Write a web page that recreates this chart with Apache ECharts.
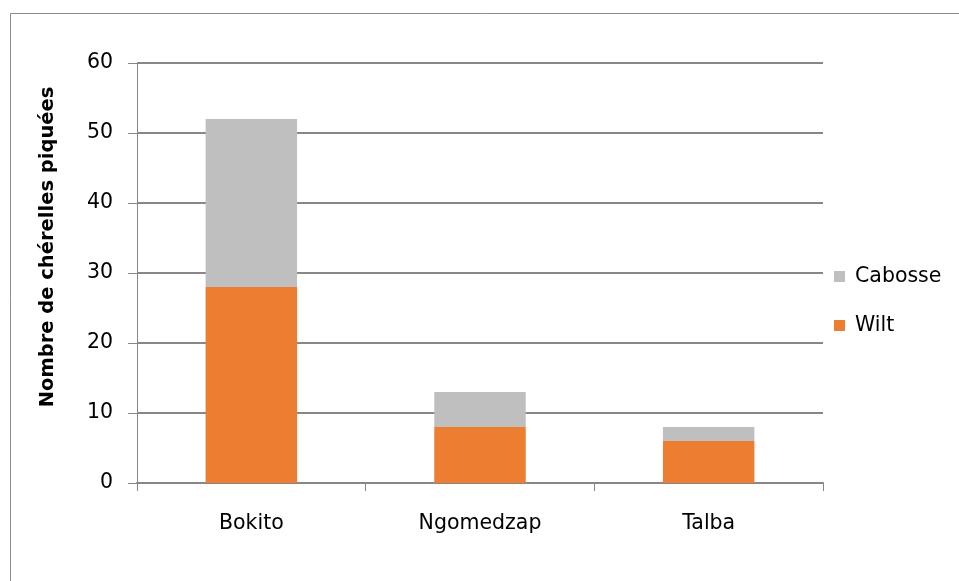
<!DOCTYPE html>
<html>
<head>
<meta charset="utf-8">
<script src="https://cdn.jsdelivr.net/npm/echarts@6/dist/echarts.min.js"></script>
<style>
  html, body { margin: 0; padding: 0; background: #fff; }
  #chart { width: 959px; height: 581px; }
</style>
</head>
<body>
<div id="chart"></div>
<script>
// données
const sites = ["Bokito", "Ngomedzap", "Talba"];
const wilt = [28, 8, 6];
const cabosse = [24, 5, 2];
const yTicks = [0, 10, 20, 30, 40, 50, 60];

const chart = echarts.init(document.getElementById("chart"));
const font = "'DejaVu Sans', sans-serif";

chart.setOption({
  animation: false,
  textStyle: { fontFamily: font },
  // cadre gris autour du graphique
  graphic: [{
    type: "rect",
    shape: { x: 10.5, y: 13.5, width: 960, height: 580 },
    style: { fill: "none", stroke: "#8c8c8c", lineWidth: 1 }
  }],
  grid: { left: 137, right: 136, top: 63, bottom: 98 },
  legend: {
    orient: "vertical",
    left: 829,
    top: 261,
    itemWidth: 11,
    itemHeight: 11,
    itemGap: 28,
    icon: "rect",
    data: ["Cabosse", "Wilt"],
    textStyle: { fontSize: 20.5, color: "#000", fontFamily: font, padding: [0, 0, 0, 5] }
  },
  xAxis: {
    type: "category",
    data: sites,
    axisLine: { lineStyle: { color: "#878787", width: 2 } },
    axisTick: { show: true, length: 8, lineStyle: { color: "#878787", width: 1 } },
    axisLabel: { fontSize: 20.5, color: "#000", margin: 30 }
  },
  yAxis: {
    type: "value",
    min: yTicks[0],
    max: yTicks[yTicks.length - 1],
    interval: 10,
    name: "Nombre de chérelles piquées",
    nameLocation: "middle",
    nameGap: 79,
    // titre un peu au-dessus du centre
    nameTextStyle: { fontSize: 19.5, fontWeight: "bold", color: "#000", padding: [0, 0, 0, 52] },
    axisLine: { show: true, lineStyle: { color: "#878787", width: 1 } },
    axisTick: { show: true, length: 9, lineStyle: { color: "#878787" } },
    axisLabel: { fontSize: 20.5, color: "#000", margin: 24 },
    splitLine: { lineStyle: { color: "#878787", width: 2 } }
  },
  series: [
    {
      name: "Wilt",
      type: "bar",
      stack: "total",
      barWidth: "40%",
      itemStyle: { color: "#ed7d31" },
      data: wilt
    },
    {
      name: "Cabosse",
      type: "bar",
      stack: "total",
      barWidth: "40%",
      itemStyle: { color: "#bfbfbf" },
      data: cabosse
    }
  ]
});
</script>
</body>
</html>
